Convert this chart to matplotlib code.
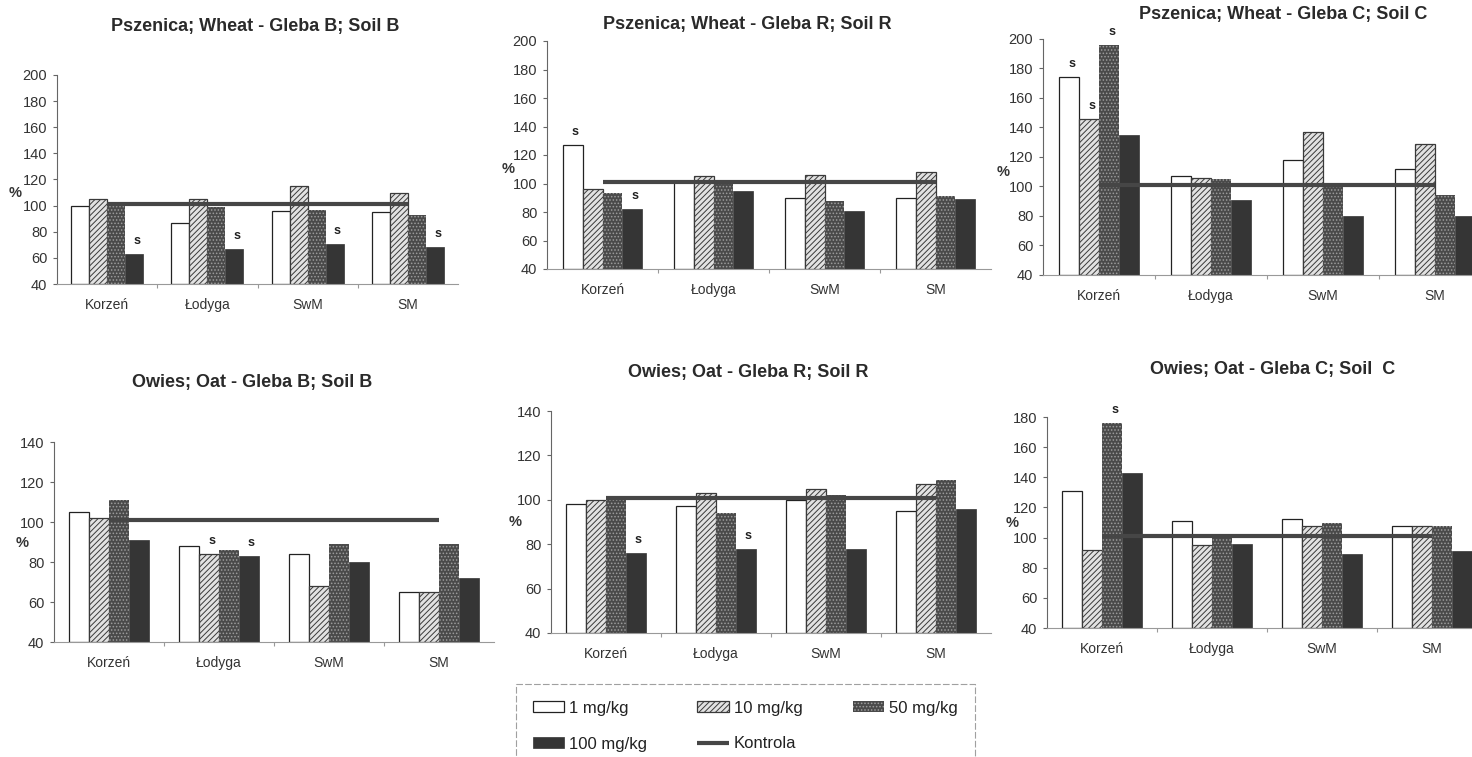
import matplotlib
matplotlib.use('Agg')
import matplotlib.pyplot as plt
import numpy as np

plt.rcParams['font.family'] = ['Liberation Sans', 'DejaVu Sans']
plt.rcParams['hatch.linewidth'] = 0.7

W, H = 1472, 757

categories = ['Korzeń', 'Łodyga', 'SwM', 'SM']
series_labels = ['1 mg/kg', '10 mg/kg', '50 mg/kg', '100 mg/kg']
kontrola = [101, 101, 101, 101]

# rows: 1, 10, 50, 100 mg/kg ; columns: categories
wheat_b_values = [
    [100, 87, 96, 95],
    [105, 105, 115, 110],
    [101, 99, 97, 93],
    [63, 67, 71, 68],
]
wheat_r_values = [
    [127, 101, 90, 90],
    [96, 105, 106, 108],
    [93, 100, 88, 91],
    [82, 95, 81, 89],
]
wheat_c_values = [
    [174, 107, 118, 112],
    [146, 106, 137, 129],
    [196, 105, 102, 94],
    [135, 91, 80, 80],
]
oat_b_values = [
    [105, 88, 84, 65],
    [102, 84, 68, 65],
    [111, 86, 89, 89],
    [91, 83, 80, 72],
]
oat_r_values = [
    [98, 97, 100, 95],
    [100, 103, 105, 107],
    [101, 94, 102, 109],
    [76, 78, 78, 96],
]
oat_c_values = [
    [131, 111, 112, 108],
    [92, 95, 108, 108],
    [176, 101, 110, 108],
    [143, 96, 89, 91],
]

# (series index, category index) marked with "s"
wheat_b_sig = [(3, 0), (3, 1), (3, 2), (3, 3)]
wheat_r_sig = [(0, 0), (3, 0)]
wheat_c_sig = [(0, 0), (1, 0), (2, 0)]
oat_b_sig = [(1, 1), (3, 1)]
oat_r_sig = [(3, 0), (3, 1)]
oat_c_sig = [(2, 0)]

panels = [
    # title, values, sig, ymax, axes box px (left, top, right, bottom), title xy px, % xy px
    ('Pszenica; Wheat - Gleba B; Soil B', wheat_b_values, wheat_b_sig, 200,
     (57, 75, 458, 284), (255, 27), (15, 193)),
    ('Pszenica; Wheat - Gleba R; Soil R', wheat_r_values, wheat_r_sig, 200,
     (547, 41, 991, 269), (747, 25), (508, 169)),
    ('Pszenica; Wheat - Gleba C; Soil C', wheat_c_values, wheat_c_sig, 200,
     (1043, 39, 1491, 275), (1283, 15), (1003, 172)),
    ('Owies; Oat - Gleba B; Soil B', oat_b_values, oat_b_sig, 140,
     (54, 442, 494, 642), (252, 382), (22, 543)),
    ('Owies; Oat - Gleba R; Soil R', oat_r_values, oat_r_sig, 140,
     (551, 411, 991, 633), (748, 372), (515, 522)),
    ('Owies; Oat - Gleba C; Soil  C', oat_c_values, oat_c_sig, 180,
     (1047, 417, 1487, 628), (1273, 369), (1012, 523)),
]

bar_styles = [
    dict(facecolor='white', edgecolor='#222222', linewidth=0.9),
    dict(facecolor='#e2e2e2', edgecolor='#3a3a3a', hatch='//////', linewidth=0.9),
    dict(facecolor='#4a4a4a', edgecolor='#9c9c9c', hatch='.....', linewidth=0),
    dict(facecolor='#353535', edgecolor='#353535', linewidth=0.5),
]
line_color = '#464646'

fig = plt.figure(figsize=(W / 100, H / 100), dpi=100)

bar_w = 0.18
x = np.arange(len(categories))
handles = []
for title, values, sig, ymax, box, tpos, ppos in panels:
    l, t, r, b = box
    ax = fig.add_axes([l / W, 1 - b / H, (r - l) / W, (b - t) / H])
    bars = []
    for i, vals in enumerate(values):
        offs = (i - 1.5) * bar_w
        bc = ax.bar(x + offs, np.array(vals) - 40, bar_w, bottom=40, zorder=2, **bar_styles[i])
        bars.append(bc)
    ln, = ax.plot(x, kontrola, color=line_color, lw=3, zorder=3, solid_capstyle='butt')
    for si, ci in sig:
        ax.annotate('s', (x[ci] + (si - 1.5) * bar_w, values[si][ci]), xytext=(2, 5),
                    textcoords='offset points', ha='center', va='bottom',
                    fontsize=9, fontweight='bold', color='#222222', annotation_clip=False)
    if not handles:
        handles = bars + [ln]

    ax.set_xlim(-0.5, len(categories) - 0.5)
    ax.set_ylim(40, ymax)
    ax.set_yticks(np.arange(40, ymax + 1, 20))
    ax.set_xticks(x)
    ax.set_xticklabels(categories)
    ax.set_xticks(x[:-1] + 0.5, minor=True)
    for s in ['top', 'right']:
        ax.spines[s].set_visible(False)
    ax.spines['left'].set_color('#666666')
    ax.spines['bottom'].set_color('#999999')
    ax.spines['left'].set_linewidth(0.8)
    ax.spines['bottom'].set_linewidth(0.8)
    ax.tick_params(axis='y', length=3, width=0.8, color='#666666', pad=4,
                   labelsize=10.5, labelcolor='#333333')
    ax.tick_params(axis='x', which='major', length=0, pad=10,
                   labelsize=10, labelcolor='#333333')
    ax.tick_params(axis='x', which='minor', length=3, width=0.8, color='#999999')
    ax.set_facecolor('none')

    fig.text(tpos[0] / W, 1 - tpos[1] / H, title, ha='center', va='center',
             fontsize=13, fontweight='bold', color='#2a2a2a')
    fig.text(ppos[0] / W, 1 - ppos[1] / H, '%', ha='center', va='center',
             fontsize=10.5, fontweight='bold', color='#333333')

order = [0, 3, 1, 4, 2]
labels = series_labels + ['Kontrola']
leg = fig.legend([handles[i] for i in order], [labels[i] for i in order],
                 loc='upper left', bbox_to_anchor=(516 / W, 1 - 684 / H),
                 borderaxespad=0, ncol=3, fontsize=12, frameon=True, fancybox=False,
                 handlelength=1.9, handleheight=0.6, handletextpad=0.3,
                 columnspacing=3.0, labelspacing=1.25, borderpad=1.0)
fr = leg.get_frame()
fr.set_edgecolor('#888888')
fr.set_linewidth(0.8)
fr.set_linestyle((0, (6, 2)))
for txt in leg.get_texts():
    txt.set_color('#222222')

fig.savefig('out.png', dpi=100)
